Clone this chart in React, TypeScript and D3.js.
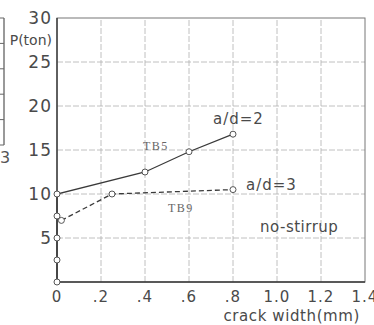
import { useEffect, useRef } from 'react'
import * as d3 from 'd3'

// crack width (mm) ticks and load (ton) ticks
const crackTicks = [0, 0.2, 0.4, 0.6, 0.8, 1.0, 1.2, 1.4]
const crackLabels = ['0', '.2', '.4', '.6', '.8', '1.0', '1.2', '1.4']
const loadTicks = [0, 5, 10, 15, 20, 25, 30]

// TB5, a/d = 2 (solid)
const tb5Crack = [0, 0, 0, 0, 0, 0.4, 0.6, 0.8]
const tb5Load = [0, 2.5, 5, 7.5, 10, 12.5, 14.8, 16.8]

// TB9, a/d = 3 (dashed)
const tb9Crack = [0.02, 0.25, 0.8]
const tb9Load = [7, 10, 10.5]

// cut-off neighbour panel on the left edge
const fragmentTicks = [0, 1, 2, 3, 4, 5]

export default function App() {
  const svgRef = useRef<SVGSVGElement>(null)

  useEffect(() => {
    if (!svgRef.current) return
    const svg = d3.select(svgRef.current)
    svg.selectAll('*').remove()

    const width = 374
    const height = 325
    const margin = { top: 18, right: 9, bottom: 43, left: 57 }
    const font = 'DejaVu Sans, sans-serif'
    const ink = '#3a3a3a'

    svg.attr('width', width).attr('height', height)

    const x = d3.scaleLinear().domain([0, 1.4]).range([margin.left, width - margin.right])
    const y = d3.scaleLinear().domain([0, 30]).range([height - margin.bottom, margin.top])

    // neighbour fragment
    const fy = d3.scaleLinear().domain([0, 5]).range([145, 18])
    const frag = svg.append('g')
    frag.append('line')
      .attr('x1', 4).attr('x2', 4).attr('y1', fy(0)).attr('y2', fy(5))
      .attr('stroke', '#555').attr('stroke-width', 1.2)
    frag.selectAll('line.t')
      .data(fragmentTicks)
      .enter()
      .append('line')
      .attr('class', 't')
      .attr('x1', 0).attr('x2', 4)
      .attr('y1', (d) => fy(d)).attr('y2', (d) => fy(d))
      .attr('stroke', '#666').attr('stroke-width', 1)
    frag.append('text')
      .attr('x', 0).attr('y', 163)
      .attr('fill', '#555').attr('font-family', font).attr('font-size', 16)
      .text('3')

    // grid
    const grid = svg.append('g')
    grid.selectAll('line.vx')
      .data(crackTicks.slice(1, -1))
      .enter()
      .append('line')
      .attr('x1', (d) => x(d)).attr('x2', (d) => x(d))
      .attr('y1', y(0)).attr('y2', y(30))
      .attr('stroke', '#b0b0b0').attr('stroke-width', 0.8)
      .attr('stroke-dasharray', '6,2')
    grid.selectAll('line.hy')
      .data(loadTicks.slice(1, -1))
      .enter()
      .append('line')
      .attr('x1', x(0)).attr('x2', x(1.4))
      .attr('y1', (d) => y(d)).attr('y2', (d) => y(d))
      .attr('stroke', '#b0b0b0').attr('stroke-width', 0.8)
      .attr('stroke-dasharray', '6,2')

    // frame
    svg.append('rect')
      .attr('x', x(0)).attr('y', y(30))
      .attr('width', x(1.4) - x(0)).attr('height', y(0) - y(30))
      .attr('fill', 'none').attr('stroke', '#777').attr('stroke-width', 1)
    svg.append('path')
      .attr('d', `M${x(0)},${y(30)}V${y(0)}H${x(1.4)}`)
      .attr('fill', 'none').attr('stroke', ink).attr('stroke-width', 1.4)

    // tick labels
    svg.append('g')
      .selectAll('text')
      .data(loadTicks)
      .enter()
      .append('text')
      .attr('x', margin.left - 5)
      .attr('y', (d) => y(d))
      .attr('dy', '0.36em')
      .attr('text-anchor', 'end')
      .attr('fill', '#4a4a4a')
      .attr('font-family', font)
      .attr('font-size', 17)
      .attr('letter-spacing', 1)
      .text((d) => (d === 0 ? '' : String(d)))

    svg.append('g')
      .selectAll('text')
      .data(crackTicks)
      .enter()
      .append('text')
      .attr('x', (d) => x(d))
      .attr('y', 302)
      .attr('text-anchor', 'middle')
      .attr('fill', '#4a4a4a')
      .attr('font-family', font)
      .attr('font-size', 15)
      .attr('letter-spacing', 1)
      .text((_, i) => crackLabels[i])

    svg.append('text')
      .attr('x', 360).attr('y', 321)
      .attr('text-anchor', 'end')
      .attr('fill', '#4a4a4a').attr('font-family', font).attr('font-size', 15)
      .attr('letter-spacing', 0.6)
      .text('crack width(mm)')

    svg.append('text')
      .attr('x', 52).attr('y', 45)
      .attr('text-anchor', 'end')
      .attr('fill', '#4a4a4a').attr('font-family', font).attr('font-size', 14)
      .text('P(ton)')

    // curves
    const tb5 = tb5Crack.map((c, i) => [c, tb5Load[i]] as [number, number])
    const tb9 = tb9Crack.map((c, i) => [c, tb9Load[i]] as [number, number])
    const line = d3.line<[number, number]>()
      .x((d) => x(d[0]))
      .y((d) => y(d[1]))

    svg.append('path')
      .datum(tb5)
      .attr('d', line)
      .attr('fill', 'none').attr('stroke', ink).attr('stroke-width', 1.3)
    svg.append('path')
      .datum(tb9)
      .attr('d', line)
      .attr('fill', 'none').attr('stroke', ink).attr('stroke-width', 1.3)
      .attr('stroke-dasharray', '5,3')

    svg.append('g')
      .selectAll('circle')
      .data([...tb5, ...tb9])
      .enter()
      .append('circle')
      .attr('cx', (d) => x(d[0]))
      .attr('cy', (d) => y(d[1]))
      .attr('r', 3)
      .attr('fill', '#fff')
      .attr('stroke', '#555')
      .attr('stroke-width', 1)

    // annotations
    const note = (tx: number, ty: number, s: string, size: number, ls: number, fam = font, col = '#4a4a4a') =>
      svg.append('text')
        .attr('x', tx).attr('y', ty)
        .attr('fill', col).attr('font-family', fam).attr('font-size', size)
        .attr('letter-spacing', ls)
        .text(s)

    note(213, 124, 'a/d=2', 15, 1)
    note(246, 190, 'a/d=3', 15, 1)
    note(260, 232, 'no-stirrup', 15, 0.5)
    note(143, 150, 'TB5', 12, 1.5, 'Liberation Serif, serif', '#666')
    note(168, 212, 'TB9', 12, 1.5, 'Liberation Serif, serif', '#666')
  }, [])

  return (
    <svg ref={svgRef} style={{ position: 'absolute', left: 0, top: 0, background: '#fff' }}></svg>
  )
}
